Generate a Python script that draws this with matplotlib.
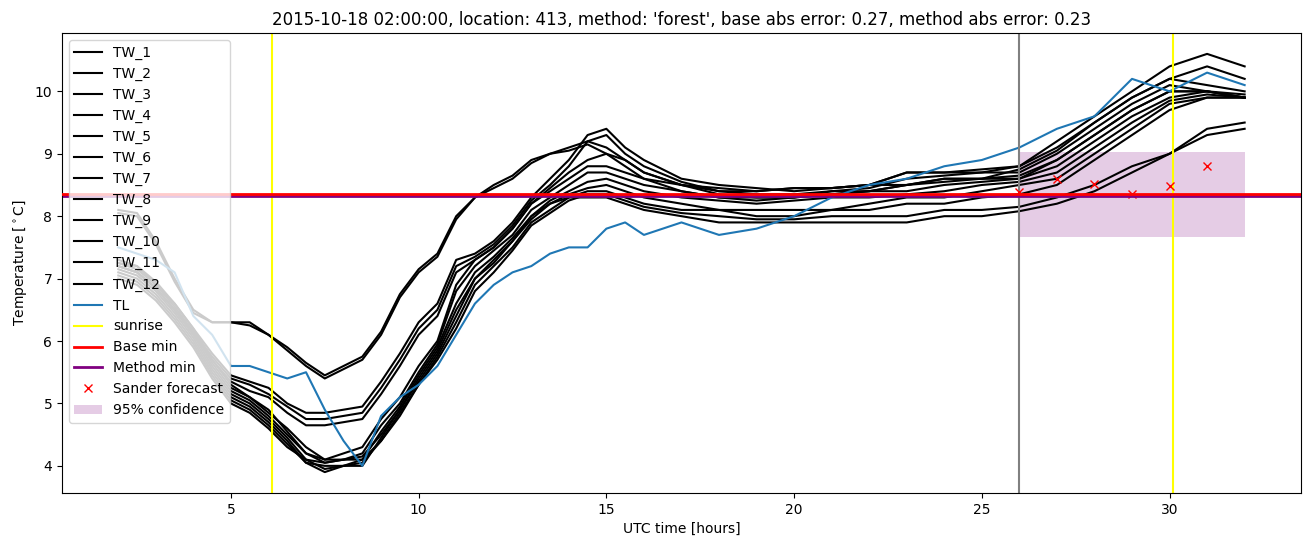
import matplotlib
matplotlib.use("Agg")
import matplotlib.pyplot as plt

# sample times (UTC hours) shared by all sensor series
hours = [2, 2.5, 3, 3.5, 4, 4.5, 5, 5.5, 6, 6.5, 7, 7.5, 8, 8.5, 9, 9.5,
         10, 10.5, 11, 11.5, 12, 12.5, 13, 13.5, 14, 14.5, 15, 15.5, 16,
         17, 18, 19, 20, 21, 22, 23, 24, 25, 26, 27, 28, 29, 30, 31, 32]

# wet-bulb style sensor traces TW_1 .. TW_12
tw_1 = [8.1, 8.05, 7.6, 7.0, 6.5, 6.3, 6.3, 6.3, 6.1, 5.9, 5.65, 5.45, 5.6, 5.75, 6.15, 6.75,
        7.15, 7.4, 8.0, 8.3, 8.5, 8.65, 8.9, 9.0, 9.1, 9.2, 9.1, 8.9, 8.7,
        8.5, 8.4, 8.4, 8.45, 8.45, 8.5, 8.7, 8.7, 8.7, 8.8, 9.2, 9.6, 10.0, 10.4, 10.6, 10.4]
tw_2 = [8.05, 8.0, 7.55, 6.95, 6.45, 6.3, 6.3, 6.25, 6.1, 5.85, 5.6, 5.4, 5.55, 5.7, 6.1, 6.7,
        7.1, 7.35, 7.95, 8.3, 8.45, 8.6, 8.85, 9.0, 9.05, 9.15, 9.0, 8.8, 8.6,
        8.4, 8.3, 8.3, 8.3, 8.4, 8.4, 8.5, 8.6, 8.6, 8.75, 9.05, 9.5, 9.9, 10.2, 10.4, 10.2]
tw_3 = [7.3, 7.2, 6.95, 6.6, 6.2, 5.8, 5.45, 5.35, 5.25, 5.0, 4.85, 4.85, 4.9, 4.95, 5.35, 5.8,
        6.3, 6.6, 7.3, 7.4, 7.6, 7.9, 8.3, 8.6, 8.9, 9.3, 9.4, 9.1, 8.9,
        8.6, 8.5, 8.45, 8.4, 8.45, 8.5, 8.7, 8.7, 8.75, 8.8, 9.1, 9.5, 9.9, 10.2, 10.1, 10.0]
tw_4 = [7.25, 7.15, 6.9, 6.55, 6.15, 5.75, 5.4, 5.3, 5.15, 4.95, 4.75, 4.75, 4.8, 4.85, 5.25, 5.7,
        6.2, 6.5, 7.2, 7.35, 7.55, 7.85, 8.25, 8.5, 8.8, 9.2, 9.3, 9.0, 8.8,
        8.55, 8.4, 8.35, 8.35, 8.4, 8.45, 8.6, 8.65, 8.7, 8.7, 9.0, 9.4, 9.8, 10.1, 10.0, 9.95]
tw_5 = [7.2, 7.1, 6.85, 6.5, 6.1, 5.7, 5.35, 5.2, 5.1, 4.85, 4.65, 4.65, 4.7, 4.75, 5.15, 5.6,
        6.1, 6.4, 7.1, 7.3, 7.5, 7.8, 8.2, 8.45, 8.7, 8.9, 9.0, 8.9, 8.7,
        8.5, 8.35, 8.3, 8.3, 8.35, 8.4, 8.5, 8.55, 8.6, 8.6, 8.9, 9.3, 9.7, 10.0, 10.0, 9.9]
tw_6 = [7.25, 7.2, 6.9, 6.6, 6.2, 5.7, 5.3, 5.1, 4.85, 4.6, 4.3, 4.1, 4.2, 4.3, 4.75, 5.1,
        5.6, 6.0, 6.9, 7.3, 7.5, 7.8, 8.2, 8.4, 8.6, 8.8, 8.8, 8.7, 8.6,
        8.5, 8.45, 8.4, 8.45, 8.45, 8.5, 8.5, 8.6, 8.6, 8.65, 8.9, 9.3, 9.7, 10.0, 10.0, 9.9]
tw_7 = [7.2, 7.1, 6.85, 6.5, 6.1, 5.6, 5.2, 5.05, 4.8, 4.5, 4.2, 4.05, 4.1, 4.2, 4.65, 5.0,
        5.5, 5.95, 6.8, 7.2, 7.45, 7.7, 8.1, 8.3, 8.5, 8.7, 8.7, 8.6, 8.5,
        8.4, 8.3, 8.25, 8.3, 8.35, 8.4, 8.4, 8.5, 8.55, 8.6, 8.8, 9.2, 9.6, 9.9, 10.0, 9.9]
tw_8 = [7.15, 7.05, 6.8, 6.45, 6.05, 5.55, 5.15, 5.0, 4.75, 4.45, 4.1, 3.95, 4.0, 4.1, 4.55, 4.95,
        5.45, 5.9, 6.6, 7.1, 7.35, 7.65, 8.0, 8.25, 8.4, 8.55, 8.6, 8.5, 8.4,
        8.3, 8.25, 8.2, 8.25, 8.3, 8.3, 8.35, 8.4, 8.5, 8.55, 8.7, 9.1, 9.5, 9.85, 9.95, 9.9]
tw_9 = [7.1, 7.0, 6.75, 6.4, 6.0, 5.5, 5.1, 4.95, 4.7, 4.4, 4.05, 3.9, 4.0, 4.0, 4.45, 4.9,
        5.35, 5.8, 6.4, 7.0, 7.25, 7.6, 7.95, 8.2, 8.35, 8.45, 8.5, 8.4, 8.3,
        8.2, 8.1, 8.1, 8.1, 8.1, 8.2, 8.3, 8.3, 8.4, 8.5, 8.6, 9.0, 9.4, 9.8, 9.9, 9.9]
tw_10 = [7.05, 6.95, 6.7, 6.35, 5.95, 5.45, 5.05, 4.9, 4.65, 4.35, 4.05, 4.0, 4.0, 4.05, 4.4, 4.85,
         5.3, 5.75, 6.3, 6.9, 7.2, 7.5, 7.9, 8.1, 8.3, 8.4, 8.4, 8.3, 8.2,
         8.1, 8.1, 8.0, 8.0, 8.1, 8.1, 8.2, 8.2, 8.3, 8.35, 8.5, 8.9, 9.3, 9.7, 9.9, 9.9]
tw_11 = [7.0, 6.9, 6.65, 6.3, 5.9, 5.4, 5.0, 4.85, 4.6, 4.3, 4.1, 4.05, 4.1, 4.1, 4.4, 4.8,
         5.3, 5.7, 6.2, 6.8, 7.1, 7.45, 7.85, 8.05, 8.25, 8.35, 8.35, 8.25, 8.15,
         8.05, 8.0, 7.95, 7.95, 8.0, 8.0, 8.0, 8.1, 8.1, 8.15, 8.3, 8.5, 8.8, 9.0, 9.4, 9.5]
tw_12 = [7.2, 7.1, 6.85, 6.5, 6.15, 5.65, 5.25, 5.1, 4.9, 4.55, 4.2, 4.1, 4.1, 4.15, 4.5, 4.9,
         5.4, 5.85, 6.5, 7.0, 7.3, 7.6, 8.0, 8.2, 8.3, 8.3, 8.3, 8.2, 8.1,
         8.0, 7.9, 7.9, 7.9, 7.9, 7.9, 7.9, 8.0, 8.0, 8.08, 8.2, 8.4, 8.7, 9.0, 9.3, 9.4]
tw_series = [tw_1, tw_2, tw_3, tw_4, tw_5, tw_6, tw_7, tw_8, tw_9, tw_10, tw_11, tw_12]

# air temperature TL
tl = [7.5, 7.4, 7.3, 7.1, 6.4, 6.1, 5.6, 5.6, 5.5, 5.4, 5.5, 4.9, 4.4, 4.0, 4.8, 5.1,
      5.3, 5.6, 6.1, 6.6, 6.9, 7.1, 7.2, 7.4, 7.5, 7.5, 7.8, 7.9, 7.7,
      7.9, 7.7, 7.8, 8.0, 8.3, 8.5, 8.6, 8.8, 8.9, 9.1, 9.4, 9.6, 10.2, 10.0, 10.3, 10.1]

sunrise = [6.1, 30.1]
forecast_time = 26
base_min = 8.355
method_min = 8.33
sander_hours = [26, 27, 28, 29, 30, 31]
sander_temp = [8.38, 8.59, 8.52, 8.35, 8.48, 8.80]
conf_hours = [26, 32]
conf_low = 7.66
conf_high = 9.03

fig, ax = plt.subplots(figsize=(13.1, 5.47), dpi=100)
fig.subplots_adjust(left=0.0473, right=0.9931, top=0.9397, bottom=0.0987)

for i, vals in enumerate(tw_series):
    ax.plot(hours, vals, color="black", lw=1.5, label="TW_{}".format(i + 1))
ax.plot(hours, tl, color="tab:blue", lw=1.5, label="TL")

for j, s in enumerate(sunrise):
    ax.axvline(s, color="yellow", lw=1.5, label="sunrise" if j == 0 else None)
ax.axvline(forecast_time, color="gray", lw=1.5)

ax.axhline(base_min, color="red", lw=2, label="Base min", zorder=3)
ax.axhline(method_min, color="purple", lw=2, label="Method min", zorder=2.5)
ax.plot(sander_hours, sander_temp, "rx", label="Sander forecast")
ax.fill_between(conf_hours, conf_low, conf_high, color="purple", alpha=0.2,
                lw=0, label="95% confidence")

ax.set_xlabel("UTC time [hours]")
ax.set_ylabel(r"Temperature [$^\circ$C]")
ax.set_title("2015-10-18 02:00:00, location: 413, method: 'forest', "
             "base abs error: 0.27, method abs error: 0.23")
ax.legend(loc="upper left")

fig.savefig("out.png")
